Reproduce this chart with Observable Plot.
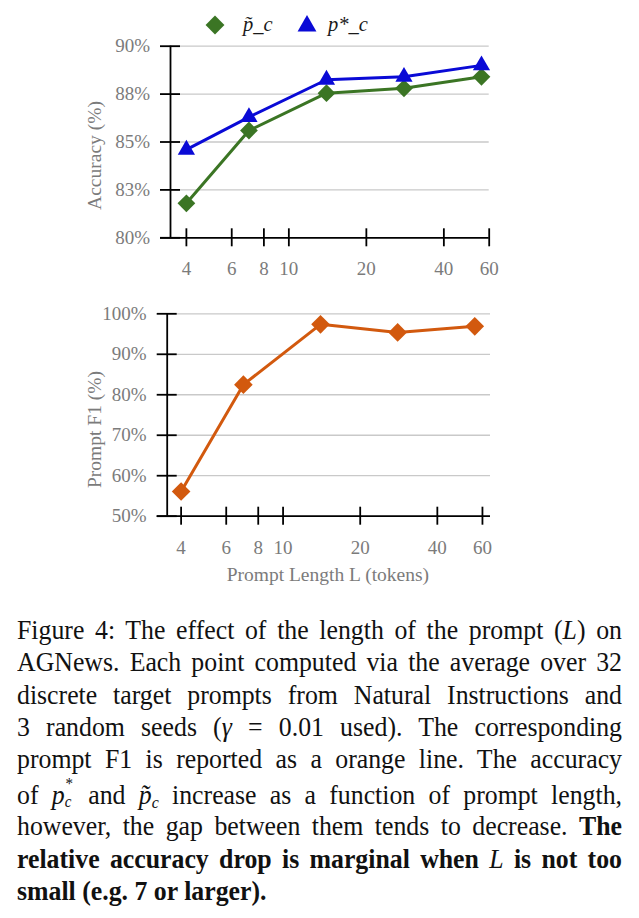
<!DOCTYPE html>
<html><head><meta charset="utf-8">
<script src="https://cdn.jsdelivr.net/npm/d3@7"></script>
<script src="https://cdn.jsdelivr.net/npm/@observablehq/plot@0.6"></script>
<style>
body{margin:0;background:#fff;width:639px;height:918px;overflow:hidden;}
#legend,#top,#bottom{display:block;line-height:0;}
#cap{margin-left:17px;margin-top:24.2px;width:645px;transform:scaleX(0.938);transform-origin:0 0;font-family:'Liberation Serif',serif;font-size:27.5px;line-height:32.3px;color:#111;}
#cap .j{text-align:justify;text-align-last:justify;}
#cap b{font-weight:bold;}
.st{position:relative;display:inline-block;width:0.4em;height:1em;}
.st .up{position:absolute;left:1px;top:0px;font-size:16px;line-height:16px;}
.st .dn{position:absolute;left:0;top:18px;font-size:16px;line-height:16px;}
.sb{font-size:17px;line-height:0;position:relative;top:5px;}
</style></head><body>
<div id="legend"></div>
<div id="top"></div>
<div id="bottom"></div>
<div id="cap">
<div class="j">Figure 4: The effect of the length of the prompt (<i>L</i>) on</div>
<div class="j">AGNews. Each point computed via the average over 32</div>
<div class="j">discrete target prompts from Natural Instructions and</div>
<div class="j">3 random seeds (<i>γ</i> = 0.01 used). The corresponding</div>
<div class="j">prompt F1 is reported as a orange line. The accuracy</div>
<div class="j">of <i>p</i><span class="st"><span class="up">*</span><i class="dn">c</i></span> and <i>p̃</i><i class="sb">c</i> increase as a function of prompt length,</div>
<div class="j">however, the gap between them tends to decrease. <b>The</b></div>
<div class="j"><b>relative accuracy drop is marginal when <i style="font-weight:normal">L</i> is not too</b></div>
<div><b>small (e.g. 7 or larger).</b></div>
</div>
<script>
// ---- data ----
const lengths = [4, 7, 14, 28, 56];
const accTilde = [81.8, 85.6, 87.55, 87.8, 88.4];   // p̃_c
const accStar  = [84.6, 86.3, 88.25, 88.4, 89.0];   // p*_c
const promptF1 = [56.1, 82.5, 97.4, 95.4, 96.9];
const xTicks = [4, 6, 8, 10, 20, 40, 60];
const accTicks = [80, 82.5, 85, 87.5, 90];
const f1Ticks = [50, 60, 70, 80, 90, 100];
const seriesNames = ["p̃_c", "p*_c"];
const xLabel = "Prompt Length L (tokens)";
const accLabel = "Accuracy (%)";
const f1Label = "Prompt F1 (%)";

const GREEN = "#3b7524", BLUE = "#0a0ad6", ORANGE = "#d2590e", GRAY = "#7b7b7b", GRID = "#c9c9c9";
const FONT = "'Liberation Serif', serif";

const tildeRows = lengths.map((L, i) => ({L, v: accTilde[i]}));
const starRows = lengths.map((L, i) => ({L, v: accStar[i]}));
const f1Rows = lengths.map((L, i) => ({L, v: promptF1[i]}));

const style = {fontFamily: FONT, fontSize: "19px", color: GRAY, background: "transparent", overflow: "visible"};

function frameMarks(xDom, yTicks, yFmt) {
  const y0 = yTicks[0], y1 = yTicks[yTicks.length - 1];
  return [
    Plot.ruleX([xDom[0]], {y1: y0, y2: y1, stroke: "#000", strokeWidth: 1.8}),
    Plot.ruleY([y0], {x1: xDom[0], x2: xDom[1], insetLeft: -10, stroke: "#000", strokeWidth: 1.8}),
    Plot.ruleY(yTicks, {y: d => d, x1: xDom[0], x2: xDom[0], insetLeft: -10, insetRight: -10, stroke: "#000", strokeWidth: 1.8}),
    Plot.ruleX(xTicks, {x: d => d, y1: y0, y2: y0, insetTop: -9, insetBottom: -9, stroke: "#000", strokeWidth: 1.8}),
    Plot.axisY({ticks: yTicks, tickSize: 0, tickPadding: 20.5, tickFormat: yFmt, label: null, fill: GRAY}),
    Plot.axisX({ticks: xTicks, tickSize: 0, tickPadding: 24, tickFormat: d => String(d), label: null, fill: GRAY})
  ];
}

// ---- top chart ----
const xDomTop = [3.47, 60];
const topPlot = Plot.plot({
  width: 639, height: 254,
  marginTop: 9.7, marginBottom: 52.7, marginLeft: 170, marginRight: 150.3,
  style,
  x: {type: "log", domain: xDomTop},
  y: {domain: [accTicks[0], accTicks[accTicks.length - 1]]},
  marks: [
    Plot.ruleY(accTicks.slice(1), {y: d => d, stroke: GRID, strokeWidth: 1.3}),
    Plot.line(tildeRows, {x: "L", y: "v", stroke: GREEN, strokeWidth: 3}),
    Plot.line(starRows, {x: "L", y: "v", stroke: BLUE, strokeWidth: 3}),
    Plot.dot(tildeRows, {x: "L", y: "v", symbol: "diamond2", r: 8, fill: GREEN, stroke: "none"}),
    Plot.dot(starRows, {x: "L", y: "v", symbol: "triangle", r: 6.4, fill: BLUE, stroke: "none"}),
    ...frameMarks(xDomTop, accTicks, d => Math.round(d) + "%"),
    Plot.text([accLabel], {text: d => d, frameAnchor: "left", textAnchor: "middle", lineAnchor: "middle", rotate: -90, dx: -76, dy: 13.5, fill: GRAY, fontSize: 19.5})
  ]
});
document.getElementById("top").appendChild(topPlot);

// ---- bottom chart ----
const xDomBot = [3.53, 64.5];
const botPlot = Plot.plot({
  width: 639, height: 300,
  marginTop: 23.3, marginBottom: 74.3, marginLeft: 166.7, marginRight: 149,
  style,
  x: {type: "log", domain: xDomBot},
  y: {domain: [f1Ticks[0], f1Ticks[f1Ticks.length - 1]]},
  marks: [
    Plot.ruleY(f1Ticks.slice(1), {y: d => d, stroke: GRID, strokeWidth: 1.3}),
    Plot.line(f1Rows, {x: "L", y: "v", stroke: ORANGE, strokeWidth: 3}),
    Plot.dot(f1Rows, {x: "L", y: "v", symbol: "diamond2", r: 8.4, fill: ORANGE, stroke: "none"}),
    ...frameMarks(xDomBot, f1Ticks, d => d + "%"),
    Plot.text([f1Label], {text: d => d, frameAnchor: "left", textAnchor: "middle", lineAnchor: "middle", rotate: -90, dx: -72.5, dy: 14.5, fill: GRAY, fontSize: 19.5}),
    Plot.text([xLabel], {text: d => d, frameAnchor: "bottom", textAnchor: "middle", lineAnchor: "middle", dx: -1, dy: 58.3, fill: GRAY, fontSize: 19.5})
  ]
});
document.getElementById("bottom").appendChild(botPlot);

// ---- legend ----
const lg = d3.select("#legend").append("svg").attr("width", 639).attr("height", 36);
const legendItems = [
  {name: seriesNames[0], sym: d3.symbolDiamond2, size: Math.PI * 8.5 * 8.5, color: GREEN, mx: 215, my: 25, tx: 243},
  {name: seriesNames[1], sym: d3.symbolTriangle, size: Math.PI * 7 * 7, color: BLUE, mx: 307, my: 26, tx: 328}
];
for (const it of legendItems) {
  lg.append("path").attr("d", d3.symbol(it.sym, it.size)()).attr("transform", `translate(${it.mx},${it.my})`).attr("fill", it.color);
  lg.append("text").attr("x", it.tx).attr("y", 31).attr("font-family", FONT).attr("font-style", "italic")
    .attr("font-size", 20.5).attr("fill", "#1a1a1a").text(it.name);
}
</script>
</body></html>
